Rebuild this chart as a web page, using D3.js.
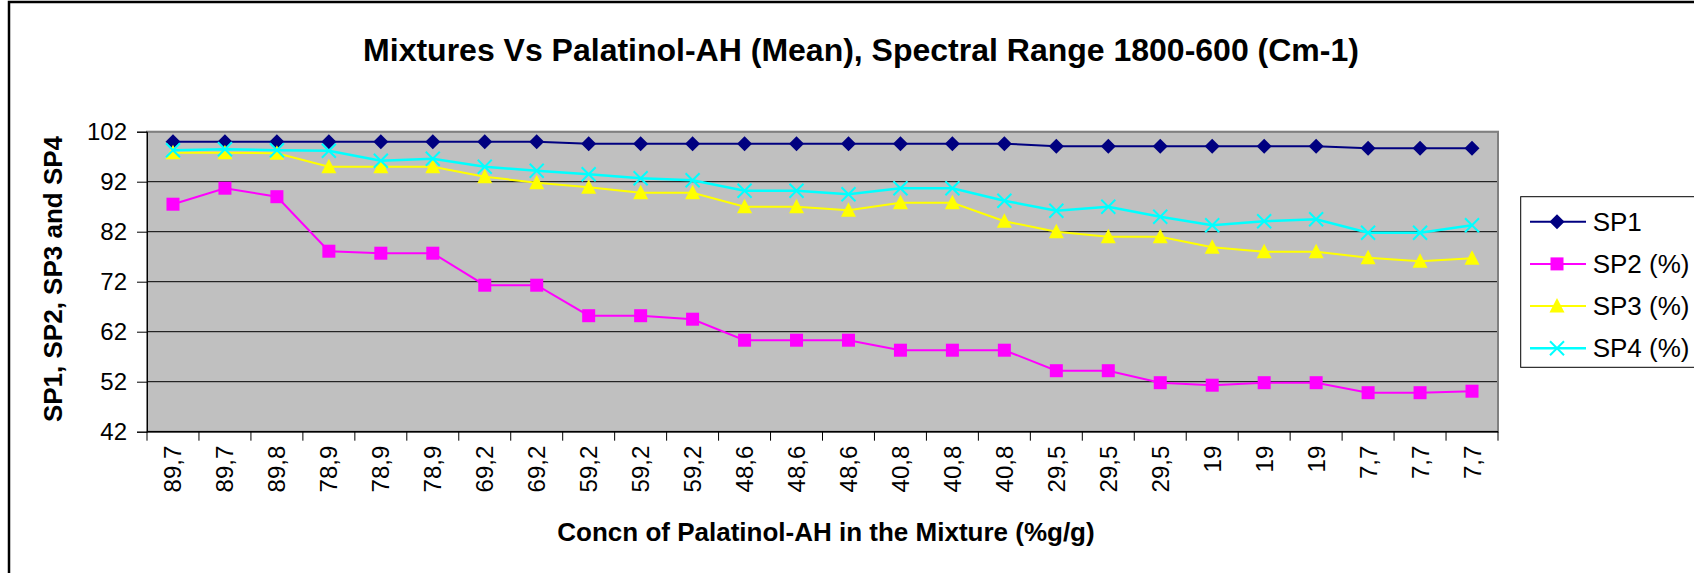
<!DOCTYPE html>
<html>
<head>
<meta charset="utf-8">
<script src="https://cdn.jsdelivr.net/npm/d3@7"></script>
<style>
  html, body { margin: 0; padding: 0; background: #fff; }
  svg { display: block; font-family: "Liberation Sans", Arial, sans-serif; }
</style>
</head>
<body>
<svg id="chart" width="1694" height="573"></svg>
<script>
const categories = ["89,7","89,7","89,8","78,9","78,9","78,9","69,2","69,2","59,2","59,2","59,2","48,6","48,6","48,6","40,8","40,8","40,8","29,5","29,5","29,5","19","19","19","7,7","7,7","7,7"];
const sp1 = [100,100,100,100,100,100,100,100,99.6,99.6,99.6,99.6,99.6,99.6,99.6,99.6,99.6,99.1,99.1,99.1,99.1,99.1,99.1,98.7,98.7,98.7];
const sp2 = [87.5,90.7,89.0,78.1,77.7,77.7,71.3,71.3,65.2,65.2,64.5,60.3,60.3,60.3,58.3,58.3,58.3,54.2,54.2,51.8,51.3,51.8,51.8,49.8,49.8,50.1];
const sp3 = [97.8,97.8,97.7,95,95,95,93,91.8,90.9,89.8,89.8,87,87,86.3,87.8,87.8,84.1,82,81,81,78.9,78,78,76.8,76.1,76.7];
const sp4 = [98.3,98.5,98.3,98.2,96.2,96.6,95,94.2,93.5,92.7,92.3,90.2,90.2,89.5,90.7,90.7,88.2,86.2,87,85,83.3,84.1,84.5,81.8,81.8,83.3];
const yTicks = [42,52,62,72,82,92,102];
const seriesNames = ["SP1","SP2 (%)","SP3 (%)","SP4 (%)"];
const title = "Mixtures Vs Palatinol-AH (Mean), Spectral Range 1800-600 (Cm-1)";
const xTitle = "Concn of Palatinol-AH in the Mixture (%g/g)";
const yTitle = "SP1, SP2, SP3 and SP4";

const svg = d3.select("#chart");
const P = {left: 147, right: 1498, top: 131.7, bottom: 431.7};

// outer chart border
svg.append("rect").attr("x", 9).attr("y", 2).attr("width", 1800).attr("height", 800)
  .attr("fill", "#fff").attr("stroke", "#000").attr("stroke-width", 2.5);

const x = d3.scaleBand().domain(d3.range(categories.length)).range([P.left, P.right]);
const y = d3.scaleLinear().domain([42, 102]).range([P.bottom, P.top]);
const cx = i => x(i) + x.bandwidth() / 2;

// plot background
svg.append("rect").attr("x", P.left).attr("y", P.top)
  .attr("width", P.right - P.left).attr("height", P.bottom - P.top)
  .attr("fill", "#C0C0C0");

// gridlines
svg.append("g").selectAll("line").data(yTicks.slice(1)).join("line")
  .attr("x1", P.left).attr("x2", P.right)
  .attr("y1", d => y(d)).attr("y2", d => y(d))
  .attr("stroke", "#000").attr("stroke-width", 1);

// plot border (gray)
svg.append("rect").attr("x", P.left).attr("y", P.top)
  .attr("width", P.right - P.left).attr("height", P.bottom - P.top)
  .attr("fill", "none").attr("stroke", "#808080").attr("stroke-width", 2);

// y axis
const yAxis = d3.axisLeft(y).tickValues(yTicks).tickSize(10).tickPadding(10);
const gy = svg.append("g").attr("transform", `translate(${P.left},0)`).call(yAxis);
gy.select(".domain").attr("stroke", "#000");
gy.selectAll(".tick line").attr("stroke", "#000");
gy.selectAll(".tick text").attr("font-size", 24).attr("fill", "#000")
  .attr("font-family", "Liberation Sans, Arial, sans-serif");

// x axis: ticks at band boundaries
const xb = d3.scaleLinear().domain([0, categories.length]).range([P.left, P.right]);
const gx = svg.append("g");
gx.append("line").attr("x1", P.left).attr("x2", P.right).attr("y1", P.bottom).attr("y2", P.bottom)
  .attr("stroke", "#000").attr("stroke-width", 1.5);
gx.selectAll("line.tk").data(d3.range(categories.length + 1)).join("line").attr("class", "tk")
  .attr("x1", d => xb(d)).attr("x2", d => xb(d))
  .attr("y1", P.bottom).attr("y2", P.bottom + 9)
  .attr("stroke", "#000");
gx.selectAll("text").data(categories).join("text")
  .attr("transform", (d, i) => `translate(${cx(i)},${P.bottom + 14}) rotate(-90)`)
  .attr("text-anchor", "end").attr("dominant-baseline", "central")
  .attr("font-size", 24).attr("fill", "#000")
  .text(d => d);

// series
const series = [
  {name: seriesNames[0], values: sp1, color: "#000080", shape: "diamond", width: 2},
  {name: seriesNames[1], values: sp2, color: "#FF00FF", shape: "square", width: 2},
  {name: seriesNames[2], values: sp3, color: "#FFFF00", shape: "triangle", width: 2},
  {name: seriesNames[3], values: sp4, color: "#00FFFF", shape: "cross", width: 2.5}
];

function drawMarker(g, shape, color) {
  if (shape === "diamond") {
    g.append("path").attr("d", "M0,-7.5L7.5,0L0,7.5L-7.5,0Z").attr("fill", color);
  } else if (shape === "square") {
    g.append("rect").attr("x", -6.5).attr("y", -6.5).attr("width", 13).attr("height", 13).attr("fill", color);
  } else if (shape === "triangle") {
    g.append("path").attr("d", "M0,-8L7.5,6.5L-7.5,6.5Z").attr("fill", color);
  } else if (shape === "cross") {
    g.append("path").attr("d", "M-7,-7L7,7M-7,7L7,-7").attr("stroke", color).attr("stroke-width", 2).attr("fill", "none");
  }
}

const line = d3.line().x((d, i) => cx(i)).y(d => y(d));
series.forEach(s => {
  svg.append("path").datum(s.values).attr("d", line)
    .attr("fill", "none").attr("stroke", s.color).attr("stroke-width", s.width);
  s.values.forEach((v, i) => {
    const g = svg.append("g").attr("transform", `translate(${cx(i)},${y(v)})`);
    drawMarker(g, s.shape, s.color);
  });
});

// legend
const L = {x: 1520.7, y: 196.7, h: 170.6};
svg.append("rect").attr("x", L.x).attr("y", L.y).attr("width", 300).attr("height", L.h)
  .attr("fill", "#fff").attr("stroke", "#000").attr("stroke-width", 1);
series.forEach((s, i) => {
  const ry = 221.7 + i * 42.2;
  svg.append("line").attr("x1", 1530).attr("x2", 1586).attr("y1", ry).attr("y2", ry)
    .attr("stroke", s.color).attr("stroke-width", s.width);
  const g = svg.append("g").attr("transform", `translate(1557,${ry})`);
  drawMarker(g, s.shape, s.color);
  svg.append("text").attr("x", 1592.7).attr("y", ry).attr("dominant-baseline", "central")
    .attr("font-size", 26).attr("fill", "#000").text(s.name);
});

// titles
svg.append("text").attr("x", 861).attr("y", 60.7).attr("text-anchor", "middle")
  .attr("font-size", 32).attr("font-weight", "bold").attr("fill", "#000").text(title);
svg.append("text").attr("x", 826).attr("y", 541).attr("text-anchor", "middle")
  .attr("font-size", 26).attr("font-weight", "bold").attr("fill", "#000").text(xTitle);
svg.append("text").attr("transform", `translate(62,279) rotate(-90)`).attr("text-anchor", "middle")
  .attr("font-size", 26).attr("font-weight", "bold").attr("fill", "#000").text(yTitle);
</script>
</body>
</html>
